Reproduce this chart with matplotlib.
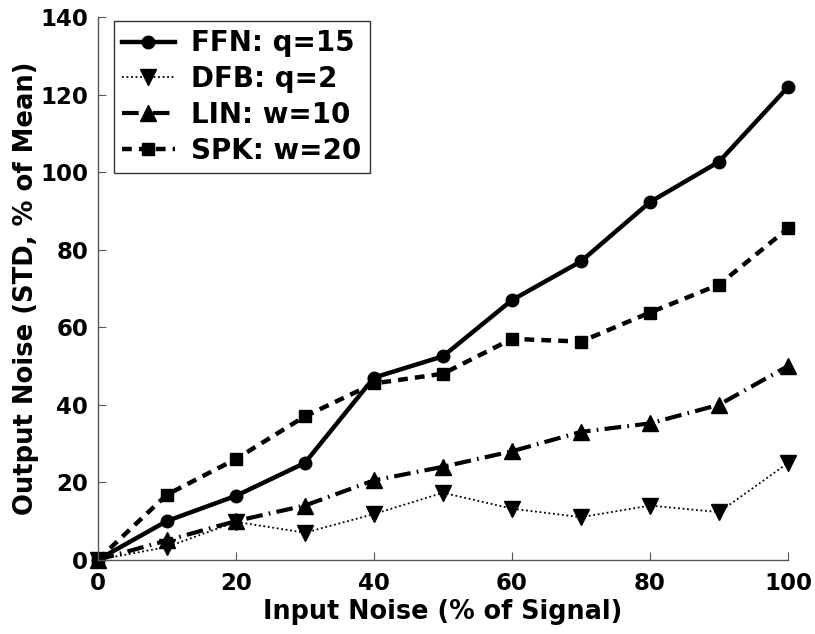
import numpy as np
import matplotlib.pyplot as plt

plt.rcParams['font.family'] = ['DejaVu Sans']
plt.rcParams['font.weight'] = 'bold'

noise_in = [0, 10, 20, 30, 40, 50, 60, 70, 80, 90, 100]
ffn = [0, 10, 16.5, 25, 47, 52.5, 67, 77, 92.3, 102.7, 122]
dfb = [0, 3.3, 9.8, 7, 11.8, 17.3, 13.2, 11, 14, 12.3, 25]
lin = [0, 5, 10, 14, 20.5, 24, 28, 33, 35.2, 40, 50]
spk = [0, 16.8, 26, 37, 45.5, 48, 57, 56.3, 63.8, 71, 85.5]

labels = ['FFN: q=15', 'DFB: q=2', 'LIN: w=10', 'SPK: w=20']

fig = plt.figure(figsize=(8.15, 6.34), dpi=100)
ax = fig.add_axes([0.120, 0.117, 0.847, 0.856])

ax.plot(noise_in, ffn, color='k', lw=3.2, ls='-', marker='o', ms=9, label=labels[0], clip_on=False)
ax.plot(noise_in, dfb, color='k', lw=1.3, ls=(0, (1, 1.5)), marker='v', ms=11, label=labels[1], clip_on=False)
ax.plot(noise_in, lin, color='k', lw=3.0, ls=(0, (4, 1.5, 0.4, 1.5)), marker='^', ms=11, label=labels[2], clip_on=False)
ax.plot(noise_in, spk, color='k', lw=3.2, ls=(0, (2.2, 1.6)), marker='s', ms=8, label=labels[3], clip_on=False)

ax.set_xlim(0, 100)
ax.set_ylim(0, 140)
ax.set_xticks(np.arange(0, 101, 20))
ax.set_yticks(np.arange(0, 141, 20))
for s in ['top', 'right']:
    ax.spines[s].set_visible(False)
for s in ['left', 'bottom']:
    ax.spines[s].set_color('#555555')
    ax.spines[s].set_linewidth(1.0)
ax.tick_params(direction='in', length=6, color='#555555', labelsize=16.5)
ax.tick_params(axis='x', pad=9)
ax.tick_params(axis='y', pad=7)
for t in ax.get_xticklabels() + ax.get_yticklabels():
    t.set_fontweight('bold')

ax.set_xlabel('Input Noise (% of Signal)', fontsize=18.4, fontweight='bold', labelpad=3)
ax.set_ylabel('Output Noise (STD, % of Mean)', fontsize=18.6, fontweight='bold', labelpad=1)

leg = ax.legend(loc='upper left', bbox_to_anchor=(0.023, 0.993), borderaxespad=0,
                fontsize=20, frameon=True, fancybox=False, edgecolor='k',
                handlelength=1.9, labelspacing=0.28, borderpad=0.3, handletextpad=0.6)
leg.get_frame().set_linewidth(1.0)
for t in leg.get_texts():
    t.set_fontweight('bold')

fig.savefig('out.png', dpi=100)
